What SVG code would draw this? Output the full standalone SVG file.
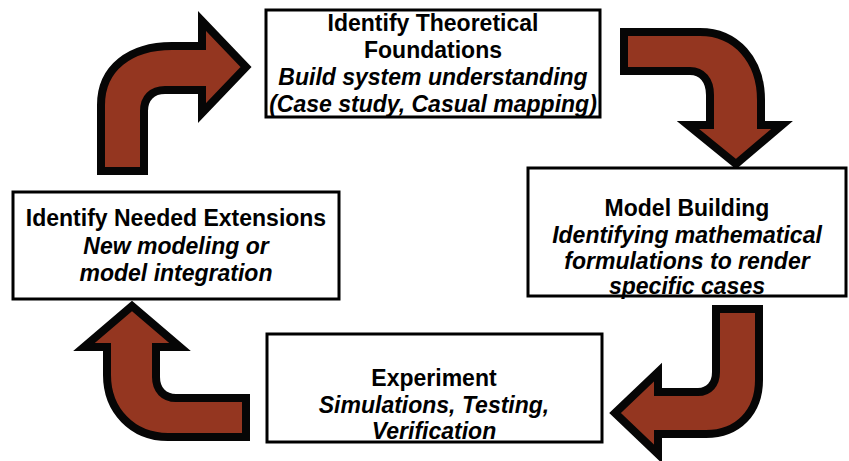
<svg xmlns="http://www.w3.org/2000/svg" width="849" height="461" viewBox="0 0 849 461">
<style>
.box{fill:#fff;stroke:#000;stroke-width:3}
.arrow{fill:#943620;stroke:#060606;stroke-width:8;stroke-linejoin:miter}
text{font-family:"Liberation Sans",Arial,sans-serif;font-size:23px;text-anchor:middle;fill:#000}
.t{font-weight:bold}
.s{font-weight:bold;font-style:italic}
</style>
<rect width="849" height="461" fill="#fff"/>
<g id="connectors">
<path class="arrow" d="M101,171 L101,105 C101,68 130,46 172,46 L202,46 L202,21 L246,67 L202,113 L202,90 L165,90 C152,90 144,98 144,111 L144,171 Z"/>
<path class="arrow" d="M624,32 L700,32 C736,32 761,60 761,100 L761,125 L782,125 L736,164 L688,125 L710,125 L710,95 C710,80 702,71 690,71 L624,71 Z"/>
<path class="arrow" d="M716,309 L759,309 L759,380 C759,412 738,434 706,434 L658,434 L658,454 L615,413 L658,372 L658,392 L698,392 C709,392 716,384 716,372 Z"/>
<path class="arrow" d="M246,398 L176,398 C164,398 156,390 156,377 L156,347 L180,347 L132,306 L84,347 L107,347 L107,375 C107,410 132,437 168,437 L246,437 Z"/>
</g>
<g id="node-theory">
<rect class="box" x="266" y="10" width="334" height="107"/>
<text class="t" x="433" y="31">Identify Theoretical</text>
<text class="t" x="433" y="58">Foundations</text>
<text class="s" x="433" y="85">Build system understanding</text>
<text class="s" x="433" y="112">(Case study, Casual mapping)</text>
</g>
<g id="node-model">
<rect class="box" x="528" y="168" width="318" height="128"/>
<text class="t" x="687" y="216">Model Building</text>
<text class="s" x="687" y="242.5">Identifying mathematical</text>
<text class="s" x="687" y="269">formulations to render</text>
<text class="s" x="687" y="294">specific cases</text>
</g>
<g id="node-experiment">
<rect class="box" x="267" y="334" width="335" height="108"/>
<text class="t" x="434" y="386">Experiment</text>
<text class="s" x="434" y="412.5">Simulations, Testing,</text>
<text class="s" x="434" y="439">Verification</text>
</g>
<g id="node-extensions">
<rect class="box" x="13" y="192" width="326" height="107"/>
<text class="t" x="176" y="226">Identify Needed Extensions</text>
<text class="s" x="176" y="254">New modeling or</text>
<text class="s" x="176" y="281">model integration</text>
</g>
</svg>
